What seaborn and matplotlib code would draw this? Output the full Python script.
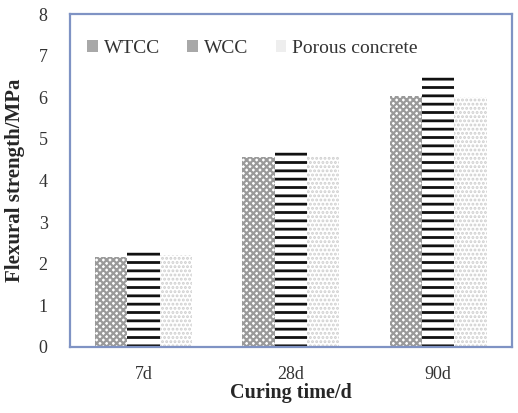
import numpy as np
import pandas as pd
import matplotlib
matplotlib.use("Agg")
import matplotlib.pyplot as plt
import seaborn as sns

curing = ["7d", "28d", "90d"]
wtcc = [2.15, 4.57, 6.03]
wcc = [2.29, 4.76, 6.48]
porous = [2.20, 4.60, 6.00]

data = pd.DataFrame({
    "Curing": curing * 3,
    "Strength": wtcc + wcc + porous,
    "Type": ["WTCC"] * 3 + ["WCC"] * 3 + ["Porous concrete"] * 3,
})

sns.set_style("white")
plt.rcParams['font.family'] = ['Liberation Serif', 'DejaVu Serif']

fig = plt.figure(figsize=(5.18, 4.13), dpi=100)
ax = fig.add_axes([0.135, 0.16, 0.853, 0.806])

sns.barplot(data=data, x="Curing", y="Strength", hue="Type", ax=ax,
            width=0.66, palette=["white"] * 3, edgecolor="none", linewidth=0)

# hatch, colour, hatch line width
styles = {
    "WTCC": ("xxxxx", "#9a9a9a", 1.6),
    "WCC": ("--", "#111111", 2.0),
    "Porous concrete": ("....", "#cfcfcf", 1.4),
}
types = ["WTCC", "WCC", "Porous concrete"]
for cont, t in zip(ax.containers, types):
    h, c, lw = styles[t]
    for bar in cont:
        bar.set_hatch(h)
        bar.set_edgecolor(c)
        bar.set_facecolor("white")
        bar.set_linewidth(0)
        bar.set_hatch_linewidth(lw)

ax.set_ylim(0, 8)
ax.set_xlim(-0.5, 2.5)
ax.set_yticks(range(0, 9))
ax.tick_params(axis="y", direction="in", length=4, labelsize=13, pad=16,
               color="#9aa8c8", labelcolor="#333333")
ax.tick_params(axis="x", length=0, labelsize=13, pad=14, labelcolor="#333333")
ax.set_xticks([0.5, 1.5], minor=True)
ax.tick_params(axis="x", which="minor", direction="in", length=4, color="#9aa8c8")
for s in ax.spines.values():
    s.set_color("#7f93c4")
    s.set_linewidth(1.6)

ax.set_xlabel("Curing time/d", fontsize=14.5, fontweight="bold", labelpad=0)
ax.set_ylabel("Flexural strength/MPa", fontsize=15, fontweight="bold", labelpad=10)

leg = ax.legend(loc="upper left", ncol=3, frameon=False, fontsize=14,
                bbox_to_anchor=(0.0, 0.975), handlelength=0.55, handleheight=0.55,
                columnspacing=1.4, handletextpad=0.3, labelcolor="#333333")
for patch, t in zip(leg.get_patches(), types):
    patch.set_hatch(None)
    patch.set_facecolor("#a8a8a8" if t != "Porous concrete" else "#eeeeee")
    patch.set_linewidth(0)

fig.savefig("out.png", dpi=100)
